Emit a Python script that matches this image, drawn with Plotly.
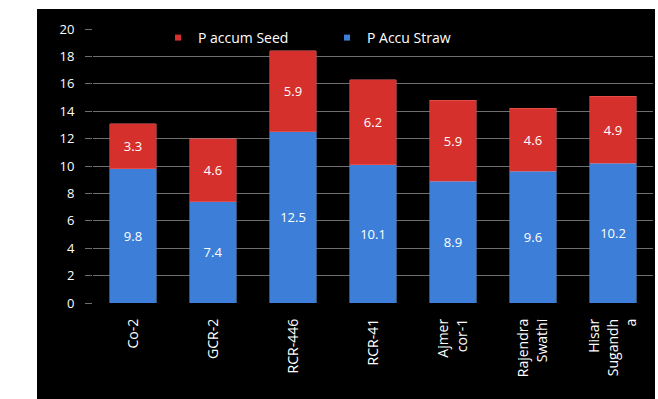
import plotly.graph_objects as go

# Phosphorus accumulation by variety
varieties = ["Co-2", "GCR-2", "RCR-446", "RCR-41", "Ajmer<br>cor-1",
             "Rajendra<br>Swathi", "Hisar<br>Sugandh<br>a"]
p_straw = [9.8, 7.4, 12.5, 10.1, 8.9, 9.6, 10.2]
p_seed = [3.3, 4.6, 5.9, 6.2, 5.9, 4.6, 4.9]
y_ticks = [0, 2, 4, 6, 8, 10, 12, 14, 16, 18, 20]

FONT = "Open Sans"
W, H = 658, 399
ML, MR, MT, MB = 93, 5, 29, 96
pw = W - ML - MR
ph = H - MT - MB

BLUE, RED = "#3d7fd8", "#d6302d"

fig = go.Figure()
fig.add_trace(go.Bar(
    x=varieties, y=p_straw, name="P Accu Straw", showlegend=False,
    legendgroup="straw",
    marker=dict(color=BLUE, line=dict(color="#6aa4ee", width=0.5)),
    text=[f"{v:.1f}" for v in p_straw], textposition="inside",
    insidetextanchor="middle",
    textfont=dict(color="white", size=13, family=FONT),
))
fig.add_trace(go.Bar(
    x=varieties, y=p_seed, name="P accum Seed", showlegend=False,
    legendgroup="seed",
    marker=dict(color=RED, line=dict(color="#ee6a66", width=0.5)),
    text=[f"{v:.1f}" for v in p_seed], textposition="inside",
    insidetextanchor="middle",
    textfont=dict(color="white", size=13, family=FONT),
))

# small square legend keys
for name, col, grp in [("P Accu Straw", BLUE, "straw"), ("P accum Seed", RED, "seed")]:
    fig.add_trace(go.Scatter(
        x=[None], y=[None], mode="markers", name=name, legendgroup=grp,
        marker=dict(symbol="square", size=6, color=col),
    ))

# black frame behind the whole chart
fig.add_shape(
    type="rect", xref="paper", yref="paper", layer="below",
    x0=(37 - ML) / pw, x1=(655 - ML) / pw,
    y0=(MT + ph - H - 5) / ph, y1=(MT + ph - 9) / ph,
    fillcolor="black", line=dict(width=0),
)

fig.update_layout(
    width=W, height=H,
    margin=dict(l=ML, r=MR, t=MT, b=MB, pad=0),
    paper_bgcolor="white", plot_bgcolor="#3d3d3d",
    barmode="stack", bargap=0.42,
    font=dict(family=FONT, color="white", size=12),
    showlegend=True,
    legend=dict(
        orientation="h", traceorder="reversed",
        x=(158 - ML) / pw, y=(MT + ph - 38) / ph,
        xanchor="left", yanchor="middle",
        bgcolor="rgba(0,0,0,0)",
        font=dict(color="white", size=14, family=FONT),
        itemwidth=30, entrywidth=124, entrywidthmode="pixels",
    ),
    uniformtext=dict(mode="show", minsize=12),
)
fig.update_xaxes(
    tickangle=-90, showgrid=False, showline=False,
    tickfont=dict(color="white", size=14, family=FONT),
    ticks="", ticklabelstandoff=12,
)
fig.update_yaxes(
    range=[0, 20], tickvals=y_ticks, showgrid=True,
    gridcolor="#6e6e6e", gridwidth=1, zeroline=False,
    ticks="outside", ticklen=7, tickcolor="#6e6e6e",
    tickfont=dict(color="white", size=13, family=FONT),
    ticklabelstandoff=8,
)

fig.write_html("out.html")
